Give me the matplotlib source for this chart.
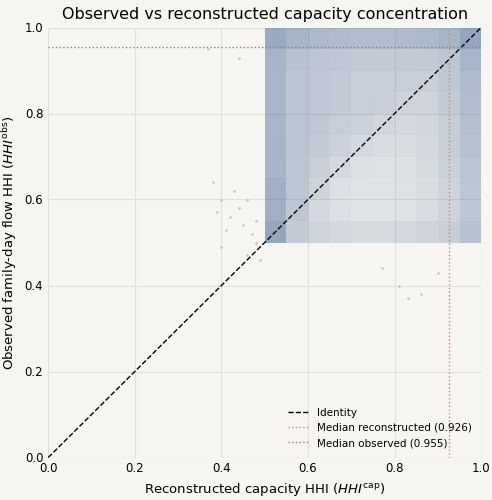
import numpy as np
import matplotlib.pyplot as plt
import matplotlib.colors as mcolors
from matplotlib.colors import to_rgba

# density grid (x: 0.5..1.0 in 10 bins, y: 0.5..1.0 in 10 bins), bottom row first
x_edges = [0.5,0.55,0.6,0.65,0.7,0.75,0.8,0.85,0.9,0.95,1.0]
y_edges = [0.5,0.55,0.6,0.65,0.7,0.75,0.8,0.85,0.9,0.95,1.0]
density = [
 [0.95,0.55,0.45,0.40,0.38,0.38,0.40,0.45,0.50,0.65],
 [0.85,0.60,0.40,0.32,0.28,0.28,0.30,0.35,0.45,0.60],
 [0.85,0.60,0.45,0.32,0.28,0.28,0.30,0.35,0.45,0.60],
 [0.80,0.60,0.50,0.40,0.32,0.30,0.32,0.38,0.48,0.62],
 [0.80,0.62,0.55,0.48,0.40,0.35,0.35,0.40,0.50,0.65],
 [0.78,0.62,0.58,0.52,0.48,0.42,0.40,0.42,0.52,0.68],
 [0.78,0.62,0.58,0.55,0.52,0.50,0.45,0.45,0.55,0.70],
 [0.78,0.62,0.58,0.55,0.52,0.52,0.52,0.50,0.58,0.72],
 [0.80,0.65,0.60,0.58,0.55,0.55,0.55,0.55,0.60,0.78],
 [0.90,0.80,0.75,0.72,0.70,0.70,0.72,0.75,0.80,0.95],
]
out_x = [0.38,0.40,0.42,0.45,0.47,0.48,0.44,0.46,0.41,0.49,0.43,0.39,0.40,0.48,0.46,0.83,0.81,0.77,0.90,0.86,0.44,0.37]
out_y = [0.64,0.60,0.56,0.54,0.52,0.50,0.58,0.47,0.53,0.46,0.62,0.57,0.49,0.55,0.60,0.37,0.40,0.44,0.43,0.38,0.93,0.95]
med_rec = 0.926
med_obs = 0.955

bg = '#f7f5f1'
fig, ax = plt.subplots(figsize=(4.92,5.0), dpi=100)
fig.patch.set_facecolor(bg); ax.set_facecolor(bg)
ax.grid(True, color='#e2ded8', lw=0.8); ax.set_axisbelow(True)

cmap = mcolors.LinearSegmentedColormap.from_list('c', [to_rgba('#4a6a98',0.0), to_rgba('#4a6a98',0.6)])
ax.pcolormesh(x_edges, y_edges, np.array(density), cmap=cmap, vmin=0.1, vmax=1, shading='flat', zorder=2)
ax.scatter(out_x, out_y, s=4, color='#8a9ab8', alpha=0.5, lw=0, zorder=2)

ax.plot([0,1],[0,1], 'k--', lw=1, label='Identity', zorder=3)
ax.axvline(med_rec, color='#d08a5a', ls=':', lw=1, label=f'Median reconstructed ({med_rec:.3f})', zorder=3)
ax.axhline(med_obs, color='#9a7a70', ls=':', lw=1, label=f'Median observed ({med_obs:.3f})', zorder=3)

ax.set_xlim(0,1); ax.set_ylim(0,1)
ax.set_xticks(np.arange(0,1.01,0.2)); ax.set_yticks(np.arange(0,1.01,0.2))
for s in ax.spines.values(): s.set_visible(False)
ax.tick_params(length=0, labelsize=8.5)
ax.set_xlabel(r'Reconstructed capacity HHI ($HHI^{\mathrm{cap}}$)', fontsize=9.5)
ax.set_ylabel(r'Observed family-day flow HHI ($HHI^{\mathrm{obs}}$)', fontsize=9.5)
ax.set_title('Observed vs reconstructed capacity concentration', fontsize=11.5)
ax.legend(loc='lower right', frameon=False, fontsize=7.5)
fig.subplots_adjust(left=0.098, right=0.978, bottom=0.085, top=0.945)
fig.savefig('out.png', dpi=100, facecolor=bg)
